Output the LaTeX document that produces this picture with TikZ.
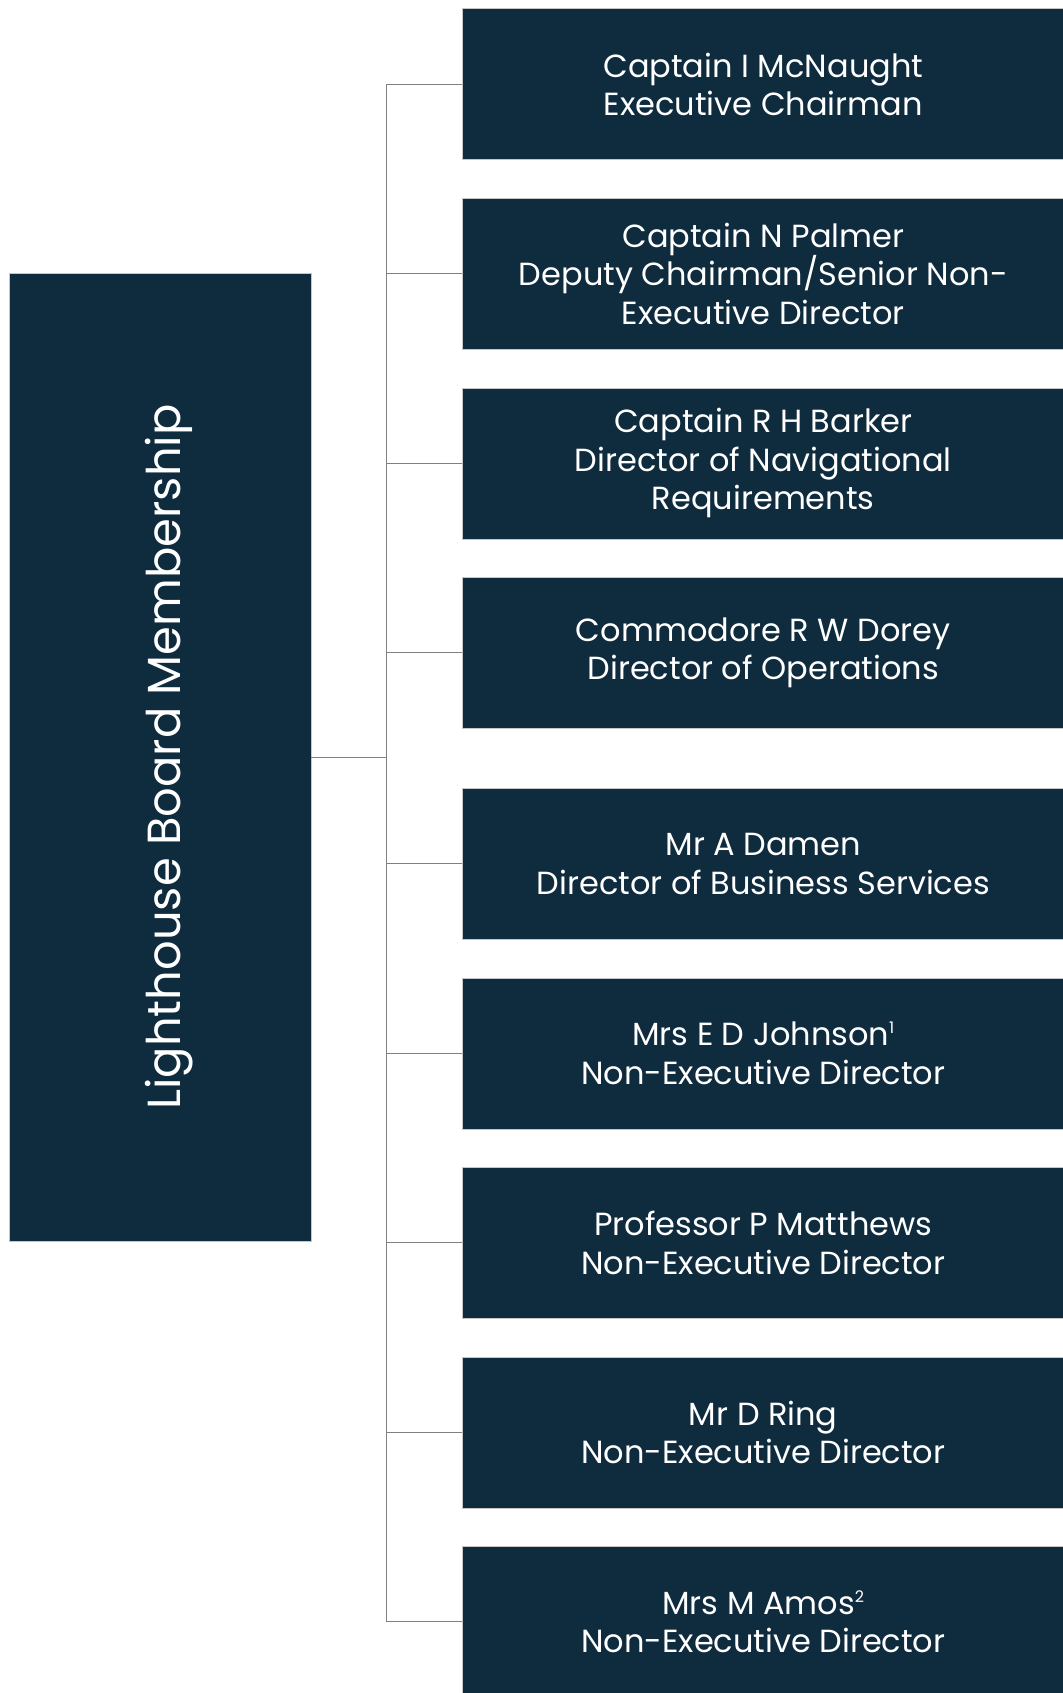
\documentclass[tikz,border=0pt]{standalone}
\usepackage{fontspec}
\setmainfont{Poppins}
\usetikzlibrary{calc}
\definecolor{boardnavy}{RGB}{15,43,62}
\definecolor{linkgrey}{RGB}{128,128,128}
\newcommand{\notemark}[1]{\raisebox{12pt}{\fontsize{16}{16}\selectfont #1}}
\tikzset{
	member/.style={fill=boardnavy, draw=gray!45, line width=0.6pt, anchor=north west, minimum width=602, minimum height=151, inner sep=0pt, text=white, align=center, font=\fontsize{32}{38.6}\selectfont},
	link/.style={draw=linkgrey, line width=1.3pt}
}

\begin{document}
\begin{tikzpicture}[x=1pt, y=-1pt]
			%%%%% START %%%%%
			\useasboundingbox (0, 0) rectangle (1062, 1693);
			
			\node[fill=boardnavy, draw=gray!45, line width=0.6pt, anchor=north west, minimum width=302, minimum height=968, inner sep=0pt] (board) at (8.5, 273) {};
			\node[rotate=90, anchor=base, text=white, font=\fontsize{46.4}{55}\selectfont] (title) at (180, 757) {Lighthouse Board Membership};
			
			\node[member] (chair) at (462, 8.5) {Captain I McNaught\\Executive Chairman};
			\node[member] (deputy) at (462, 198) {Captain N Palmer\\Deputy Chairman/Senior Non-\\Executive Director};
			\node[member] (barker) at (462, 387.5) {Captain R H Barker\\Director of Navigational\\Requirements};
			\node[member] (dorey) at (462, 577) {Commodore R W Dorey\\Director of Operations};
			
			\node[member] (damen) at (462, 788) {Mr A Damen\\Director of Business Services};
			\node[member] (johnson) at (462, 977.5) {Mrs E D Johnson\notemark{1}\\Non-Executive Director};
			\node[member] (matthews) at (462, 1167) {Professor P Matthews\\Non-Executive Director};
			\node[member] (ring) at (462, 1356.5) {Mr D Ring\\Non-Executive Director};
			\node[member] (amos) at (462, 1546) {Mrs M Amos\notemark{2}\\Non-Executive Director};
			
			\coordinate (spine) at (386.5, 0);
			
			\draw[link] (board.east) -- (board.east -| spine);
			\draw[link] (chair.west -| spine) -- (amos.west -| spine);
			
			\draw[link] (chair.west) -- (chair.west -| spine);
			\draw[link] (deputy.west) -- (deputy.west -| spine);
			\draw[link] (barker.west) -- (barker.west -| spine);
			\draw[link] (dorey.west) -- (dorey.west -| spine);
			\draw[link] (damen.west) -- (damen.west -| spine);
			\draw[link] (johnson.west) -- (johnson.west -| spine);
			\draw[link] (matthews.west) -- (matthews.west -| spine);
			\draw[link] (ring.west) -- (ring.west -| spine);
			\draw[link] (amos.west) -- (amos.west -| spine);
			
			%%%%% END %%%%%
		\end{tikzpicture}
\end{document}
